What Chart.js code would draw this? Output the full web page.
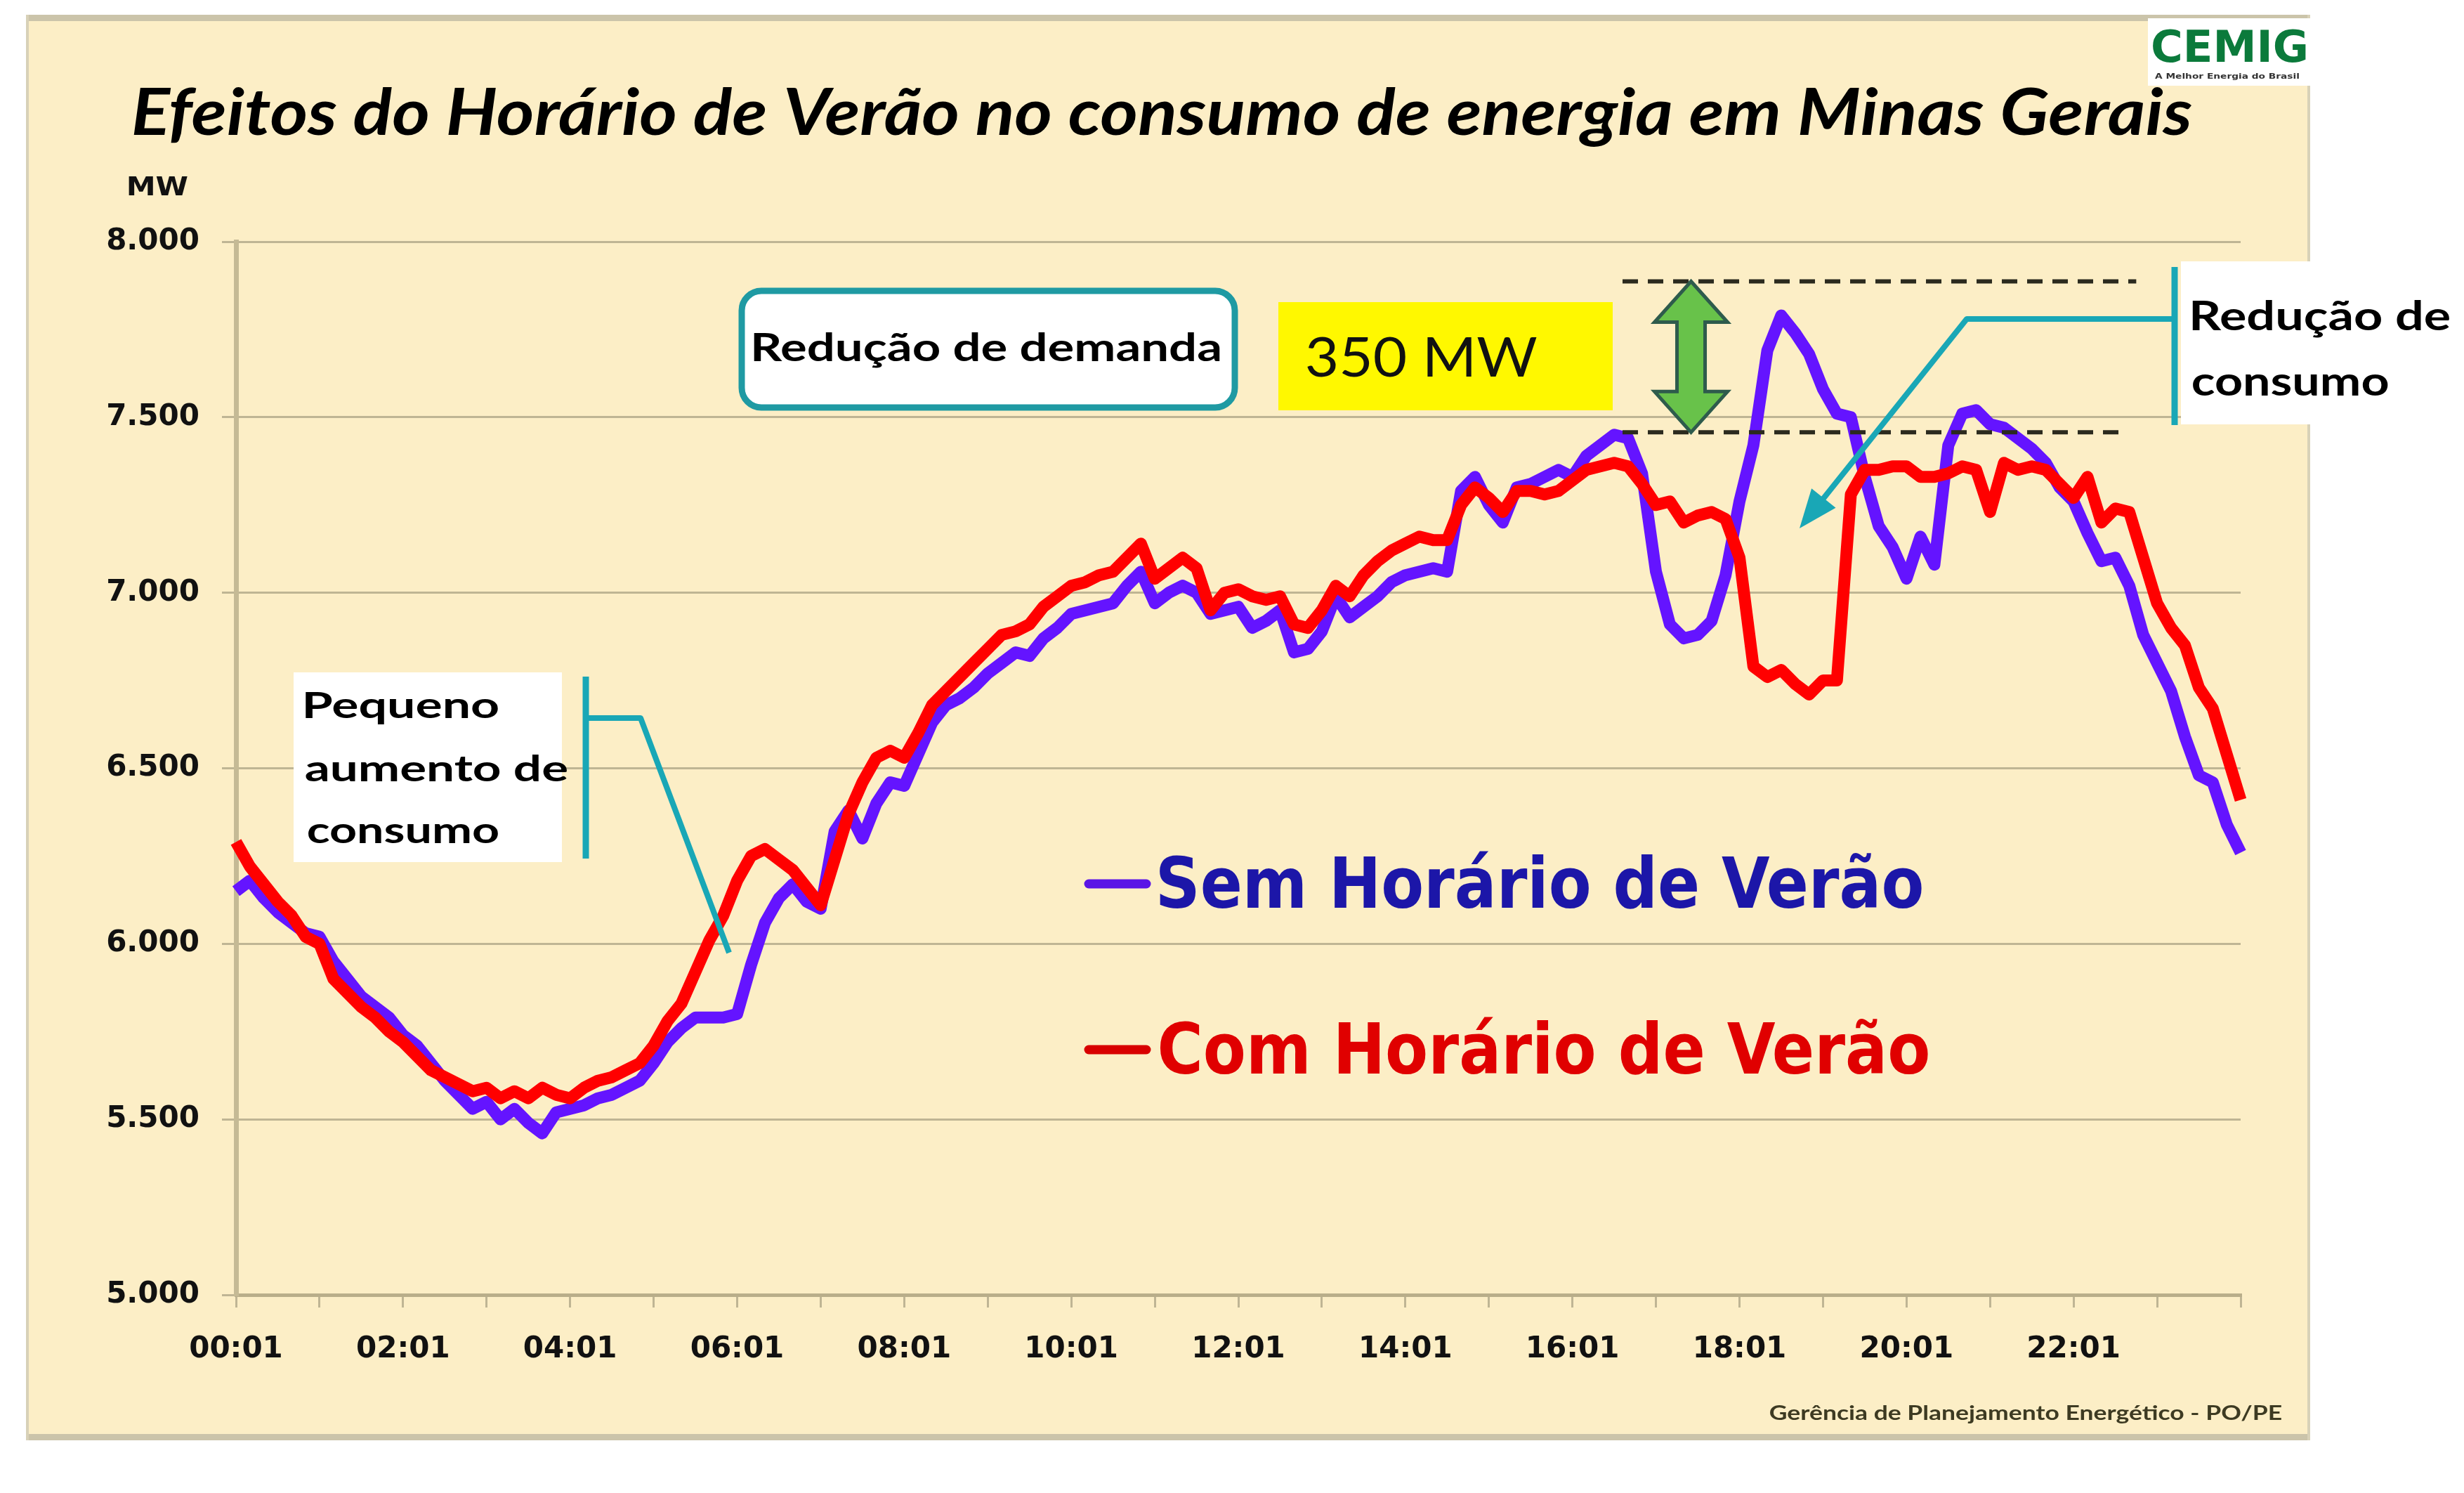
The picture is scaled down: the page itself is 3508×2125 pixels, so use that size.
<!DOCTYPE html>
<html>
<head>
<meta charset="utf-8">
<script src="https://cdn.jsdelivr.net/npm/chart.js@4.4.1/dist/chart.umd.min.js"></script>
<style>
html,body{margin:0;padding:0;background:#fff;}
canvas{display:block;}
</style>
</head>
<body>
<canvas id="c" width="3508" height="2125"></canvas>
<script>
// ---- data (MW every 10 minutes from 00:01 to 24:01) ----
const semHV = [
6150,6180,6130,6090,6060,6030,6020,5950,5900,5850,5820,5790,
5740,5710,5660,5610,5570,5530,5550,5500,5530,5490,5460,5520,
5530,5540,5560,5570,5590,5610,5660,5720,5760,5790,5790,5790,
5800,5940,6060,6130,6170,6120,6100,6320,6380,6300,6400,6460,
6450,6540,6630,6680,6700,6730,6770,6800,6830,6820,6870,6900,
6940,6950,6960,6970,7020,7060,6970,7000,7020,7000,6940,6950,
6960,6900,6920,6950,6830,6840,6890,6990,6930,6960,6990,7030,
7050,7060,7070,7060,7290,7330,7250,7200,7300,7310,7330,7350,
7330,7390,7420,7450,7440,7340,7060,6910,6870,6880,6920,7050,
7260,7420,7690,7790,7740,7680,7580,7510,7500,7330,7190,7130,
7040,7160,7080,7420,7510,7520,7480,7470,7440,7410,7370,7300,
7260,7170,7090,7100,7020,6880,6800,6720,6590,6480,6460,6340,
6260];
const comHV = [
6290,6220,6170,6120,6080,6020,6000,5900,5860,5820,5790,5750,
5720,5680,5640,5620,5600,5580,5590,5560,5580,5560,5590,5570,
5560,5590,5610,5620,5640,5660,5710,5780,5830,5920,6010,6080,
6180,6250,6270,6240,6210,6160,6110,6240,6370,6460,6530,6550,
6530,6600,6680,6720,6760,6800,6840,6880,6890,6910,6960,6990,
7020,7030,7050,7060,7100,7140,7040,7070,7100,7070,6950,7000,
7010,6990,6980,6990,6910,6900,6950,7020,6990,7050,7090,7120,
7140,7160,7150,7150,7250,7300,7270,7230,7290,7290,7280,7290,
7320,7350,7360,7370,7360,7310,7250,7260,7200,7220,7230,7210,
7100,6790,6760,6780,6740,6710,6750,6750,7280,7350,7350,7360,
7360,7330,7330,7340,7360,7350,7230,7370,7350,7360,7350,7310,
7270,7330,7200,7240,7230,7100,6970,6900,6850,6730,6670,6540,
6410];
const xTickLabels = ["00:01","02:01","04:01","06:01","08:01","10:01","12:01","14:01","16:01","18:01","20:01","22:01"];
const seriesNames = ["Sem Horário de Verão","Com Horário de Verão"];
const titleText = "Efeitos do Horário de Verão no consumo de energia em Minas Gerais";
// annotation values
const demandTopMW = 7887, demandLowMW = 7457;
const demandStartH = 16.6, demandEndTopH = 22.75, demandEndLowH = 22.65, arrowH = 17.42;
const stepsPerHour = 6;

// time categories (10-minute steps)
const times = [];
for (let i = 0; i < semHV.length; i++) {
  const m = i * 10 + 1;
  const hh = Math.floor(m / 60), mm = m % 60;
  times.push(String(hh).padStart(2,'0') + ':' + String(mm).padStart(2,'0'));
}

function fitText(ctx, text, left, baseline, width, font, color) {
  ctx.save();
  ctx.font = font;
  ctx.fillStyle = color;
  ctx.textAlign = 'left';
  ctx.textBaseline = 'alphabetic';
  const m = ctx.measureText(text);
  const w = m.actualBoundingBoxRight + m.actualBoundingBoxLeft;
  const sx = width / w;
  ctx.translate(left, baseline);
  ctx.scale(sx, 1);
  ctx.fillText(text, m.actualBoundingBoxLeft, 0);
  ctx.restore();
}
function roundRect(ctx, x, y, w, h, r) {
  ctx.beginPath();
  ctx.moveTo(x + r, y);
  ctx.lineTo(x + w - r, y);
  ctx.arcTo(x + w, y, x + w, y + r, r);
  ctx.lineTo(x + w, y + h - r);
  ctx.arcTo(x + w, y + h, x + w - r, y + h, r);
  ctx.lineTo(x + r, y + h);
  ctx.arcTo(x, y + h, x, y + h - r, r);
  ctx.lineTo(x, y + r);
  ctx.arcTo(x, y, x + r, y, r);
  ctx.closePath();
}

const bgPlugin = {
  id: 'bg',
  beforeDraw(chart) {
    const ctx = chart.ctx;
    ctx.save();
    ctx.fillStyle = '#ffffff';
    ctx.fillRect(0, 0, chart.width, chart.height);
    ctx.fillStyle = '#FCEEC6';
    ctx.fillRect(40, 28, 3247, 2020);
    ctx.fillStyle = '#CBC4AA';
    ctx.fillRect(38, 21, 3251, 9);
    ctx.fillRect(38, 2041, 3251, 9);
    ctx.fillStyle = '#D8D1B8';
    ctx.fillRect(37, 21, 4, 2029);
    ctx.fillRect(3285, 21, 4, 2029);
    ctx.restore();
  }
};

const annPlugin = {
  id: 'ann',
  afterDraw(chart) {
    const ctx = chart.ctx;
    const xs = chart.scales.x, ys = chart.scales.y;
    ctx.save();

    // logo
    ctx.fillStyle = '#ffffff';
    ctx.fillRect(3058, 26, 232, 96);
    fitText(ctx, 'CEMIG', 3065, 88, 218, 'bold 62px "DejaVu Sans"', '#0B7A3B');
    fitText(ctx, 'A Melhor Energia do Brasil', 3068, 112, 205, 'bold 11px "DejaVu Sans"', '#333333');

    // title
    fitText(ctx, titleText, 190, 192, 2931, 'italic bold 92px Lato', '#000000');
    // unit
    fitText(ctx, 'MW', 183, 278, 84, 'bold 38px "DejaVu Sans"', '#111111');

    // dashed demand lines
    ctx.strokeStyle = '#2B2A1E';
    ctx.lineWidth = 6;
    ctx.setLineDash([22, 14]);
    let yT = ys.getPixelForValue(demandTopMW), yL = ys.getPixelForValue(demandLowMW);
    ctx.beginPath();
    ctx.moveTo(xs.getPixelForValue(demandStartH * stepsPerHour), yT);
    ctx.lineTo(xs.getPixelForValue(demandEndTopH * stepsPerHour), yT);
    ctx.moveTo(xs.getPixelForValue(demandStartH * stepsPerHour), yL);
    ctx.lineTo(xs.getPixelForValue(demandEndLowH * stepsPerHour), yL);
    ctx.stroke();
    ctx.setLineDash([]);

    // green double arrow
    const ax = xs.getPixelForValue(arrowH * stepsPerHour);
    const hh = 58, hw = 52, sw = 20;
    ctx.beginPath();
    ctx.moveTo(ax, yT);
    ctx.lineTo(ax + hw, yT + hh);
    ctx.lineTo(ax + sw, yT + hh);
    ctx.lineTo(ax + sw, yL - hh);
    ctx.lineTo(ax + hw, yL - hh);
    ctx.lineTo(ax, yL);
    ctx.lineTo(ax - hw, yL - hh);
    ctx.lineTo(ax - sw, yL - hh);
    ctx.lineTo(ax - sw, yT + hh);
    ctx.lineTo(ax - hw, yT + hh);
    ctx.closePath();
    ctx.fillStyle = '#68C24A';
    ctx.fill();
    ctx.strokeStyle = '#2E5B4C';
    ctx.lineWidth = 5;
    ctx.stroke();

    // "Redução de demanda" box
    roundRect(ctx, 1056, 414, 702, 166, 28);
    ctx.fillStyle = '#ffffff';
    ctx.fill();
    ctx.strokeStyle = '#1F9AA3';
    ctx.lineWidth = 9;
    ctx.stroke();
    fitText(ctx, 'Redução de demanda', 1073, 514, 664, 'bold 56px Lato', '#000000');

    // yellow 350 MW
    ctx.fillStyle = '#FFF800';
    ctx.fillRect(1820, 430, 476, 154);
    fitText(ctx, '350 MW', 1861, 536, 327, '78px Lato', '#111111');

    // right callout
    ctx.fillStyle = '#ffffff';
    ctx.fillRect(3105, 372, 403, 232);
    const teal = '#19A7B6';
    ctx.strokeStyle = teal;
    ctx.lineWidth = 9;
    ctx.lineCap = 'butt';
    ctx.beginPath();
    ctx.moveTo(3096, 380); ctx.lineTo(3096, 605);
    ctx.stroke();
    ctx.lineWidth = 8;
    ctx.lineJoin = 'round';
    const tip = [2562, 752], p1 = [2800, 454];
    ctx.beginPath();
    ctx.moveTo(3096, 454); ctx.lineTo(p1[0], p1[1]);
    const dx = tip[0] - p1[0], dy = tip[1] - p1[1], L = Math.hypot(dx, dy);
    const ux = dx / L, uy = dy / L;
    ctx.lineTo(tip[0] - ux * 40, tip[1] - uy * 40);
    ctx.stroke();
    ctx.beginPath();
    ctx.moveTo(tip[0], tip[1]);
    ctx.lineTo(tip[0] - ux * 55 - uy * 22, tip[1] - uy * 55 + ux * 22);
    ctx.lineTo(tip[0] - ux * 55 + uy * 22, tip[1] - uy * 55 - ux * 22);
    ctx.closePath();
    ctx.fillStyle = teal;
    ctx.fill();
    fitText(ctx, 'Redução de', 3121, 470, 367, 'bold 58px Lato', '#000000');
    fitText(ctx, 'consumo', 3121, 563, 279, 'bold 58px Lato', '#000000');

    // left callout
    ctx.fillStyle = '#ffffff';
    ctx.fillRect(418, 957, 382, 270);
    ctx.strokeStyle = teal;
    ctx.lineWidth = 9;
    ctx.beginPath();
    ctx.moveTo(834, 963); ctx.lineTo(834, 1222);
    ctx.stroke();
    ctx.lineWidth = 8;
    ctx.beginPath();
    ctx.moveTo(834, 1022); ctx.lineTo(912, 1022); ctx.lineTo(1038, 1356);
    ctx.stroke();
    fitText(ctx, 'Pequeno', 435, 1022, 275, 'bold 52px Lato', '#000000');
    fitText(ctx, 'aumento de', 435, 1112, 373, 'bold 52px Lato', '#000000');
    fitText(ctx, 'consumo', 438, 1200, 272, 'bold 52px Lato', '#000000');

    // legend
    ctx.lineCap = 'round';
    ctx.lineWidth = 13;
    ctx.strokeStyle = '#5A14E6';
    ctx.beginPath(); ctx.moveTo(1550, 1258); ctx.lineTo(1632, 1258); ctx.stroke();
    ctx.strokeStyle = '#D80000';
    ctx.beginPath(); ctx.moveTo(1550, 1494); ctx.lineTo(1632, 1494); ctx.stroke();
    fitText(ctx, seriesNames[0], 1651, 1292, 1085, 'bold 100px "DejaVu Sans"', '#1C16A8');
    fitText(ctx, seriesNames[1], 1651, 1528, 1094, 'bold 100px "DejaVu Sans"', '#E00000');

    // footer
    fitText(ctx, 'Gerência de Planejamento Energético - PO/PE', 2520, 2021, 729, 'bold 28px Lato', '#3D3A22');
    ctx.restore();
  }
};

const gridColor = '#BFB594';
new Chart(document.getElementById('c'), {
  type: 'line',
  data: {
    labels: times,
    datasets: [
      { label: seriesNames[0], data: semHV, borderColor: '#6414FF', borderWidth: 17,
        pointRadius: 0, tension: 0, fill: false, order: 2, borderJoinStyle: 'round' },
      { label: seriesNames[1], data: comHV, borderColor: '#FF0000', borderWidth: 17,
        pointRadius: 0, tension: 0, fill: false, order: 1, borderJoinStyle: 'round' }
    ]
  },
  options: {
    responsive: false,
    animation: false,
    devicePixelRatio: 1,
    layout: { padding: { left: 0, right: 318, top: 344, bottom: 182 } },
    plugins: { legend: { display: false }, tooltip: { enabled: false }, title: { display: false } },
    scales: {
      x: {
        type: 'category',
        offset: false,
        grid: {
          drawOnChartArea: false, drawTicks: true, tickLength: 18, lineWidth: 3,
          color: (c) => (c.index % stepsPerHour === 0 ? gridColor : 'rgba(0,0,0,0)')
        },
        border: { display: true, color: '#B9AE8A', width: 5 },
        ticks: {
          autoSkip: false, maxRotation: 0, minRotation: 0, padding: 35,
          font: { family: 'DejaVu Sans', weight: 'bold', size: 42 }, color: '#111111',
          callback: (v, i) => (i % 12 === 0 && i / 12 < xTickLabels.length ? xTickLabels[i / 12] : '')
        },
        afterFit: (s) => { s.height = 100; }
      },
      y: {
        min: 5000, max: 8000,
        grid: { color: gridColor, lineWidth: 3, drawTicks: true, tickLength: 20 },
        border: { display: true, color: '#C5BA95', width: 7 },
        ticks: {
          stepSize: 500, padding: 32,
          font: { family: 'DejaVu Sans', weight: 'bold', size: 42 }, color: '#111111',
          callback: (v) => String(v).replace(/\B(?=(\d{3})+(?!\d))/g, '.')
        },
        afterFit: (s) => { s.width = 336; }
      }
    }
  },
  plugins: [bgPlugin, annPlugin]
});
</script>
</body>
</html>
